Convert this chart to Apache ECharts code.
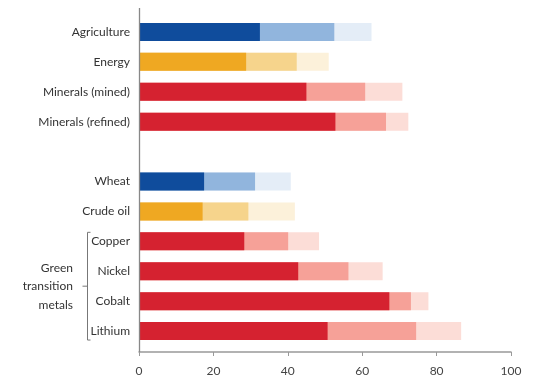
<!DOCTYPE html>
<html>
<head>
<meta charset="utf-8">
<script src="https://cdn.jsdelivr.net/npm/echarts@6/dist/echarts.min.js"></script>
<style>html,body{margin:0;padding:0;background:#fff;}#c{width:542px;height:381px;}</style>
</head>
<body>
<div id="c"></div>
<script>
// Categories (top to bottom); '' is the spacer row
const categories = ['Agriculture', 'Energy', 'Minerals (mined)', 'Minerals (refined)', '', 'Wheat', 'Crude oil', 'Copper', 'Nickel', 'Cobalt', 'Lithium'];
const colorGroup = ['blue', 'orange', 'red', 'red', 'red', 'blue', 'orange', 'red', 'red', 'red', 'red'];
// Cumulative end values of each segment (dark / medium / light)
const darkEnd   = [32.5, 28.8, 45.0, 52.8, null, 17.5, 17.1, 28.3, 42.8, 67.3, 50.7];
const mediumEnd = [52.5, 42.4, 60.8, 66.4, null, 31.2, 29.4, 40.1, 56.3, 73.1, 74.5];
const lightEnd  = [62.5, 51.0, 70.8, 72.4, null, 40.8, 41.9, 48.4, 65.5, 77.8, 86.6];
const xTicks = [0, 20, 40, 60, 80, 100];

const palette = {
  blue:   ['#0F4C9C', '#91B5DD', '#E4EDF7'],
  orange: ['#EFA822', '#F6D48C', '#FCF1DA'],
  red:    ['#D52230', '#F6A198', '#FCDDD7']
};

function items(vals, shade) {
  return vals.map((v, i) => ({ value: v, itemStyle: { color: palette[colorGroup[i]][shade] } }));
}

const chart = echarts.init(document.getElementById('c'), null, { renderer: 'canvas' });
const gridLeft = 139, gridTop = 17, gridBottom = 35;
const option = {
  animation: false,
  grid: { left: gridLeft, right: 31, top: gridTop, bottom: gridBottom },
  xAxis: {
    type: 'value', min: xTicks[0], max: xTicks[xTicks.length - 1], interval: 20,
    offset: 6,
    axisLine: { show: true, lineStyle: { color: '#999', width: 1.5 } },
    axisTick: { show: true, length: 4, lineStyle: { color: '#999' } },
    splitLine: { show: false },
    axisLabel: { color: '#444', fontSize: 12, fontFamily: 'Lato', margin: 13 }
  },
  yAxis: {
    type: 'category', data: categories, inverse: true,
    axisLine: { show: false }, axisTick: { show: false },
    axisLabel: { color: '#333', fontSize: 12, fontFamily: 'Lato', margin: 9 }
  },
  series: [
    { type: 'bar', data: items(lightEnd, 2), barWidth: 18, barGap: '-100%' },
    { type: 'bar', data: items(mediumEnd, 1), barWidth: 18, barGap: '-100%' },
    { type: 'bar', data: items(darkEnd, 0), barWidth: 18, barGap: '-100%' }
  ]
};
chart.setOption(option);

const x0 = Math.round(chart.convertToPixel({ xAxisIndex: 0 }, 0)) + 0.5;
const yCopper = chart.convertToPixel({ yAxisIndex: 0 }, 'Copper');
const yLithium = chart.convertToPixel({ yAxisIndex: 0 }, 'Lithium');
const yTop = yCopper - 9, yBot = yLithium + 9, yMid = (yTop + yBot) / 2;
const bx = 87.5;
chart.setOption({
  graphic: [
    { type: 'line', shape: { x1: x0, y1: 8, x2: x0, y2: 352 }, style: { stroke: '#888', lineWidth: 1.3 }, z: 10 },
    { type: 'polyline', shape: { points: [[bx + 3, yTop], [bx, yTop], [bx, yBot], [bx + 3, yBot]] }, style: { stroke: '#777', lineWidth: 1, fill: null } },
    { type: 'line', shape: { x1: bx - 5, y1: yMid, x2: bx, y2: yMid }, style: { stroke: '#777', lineWidth: 1 } },
    { type: 'text', x: 73, y: yMid, style: { text: 'Green\ntransition\nmetals', align: 'right', verticalAlign: 'middle', fill: '#333', font: '12px Lato', lineHeight: 18.5 } }
  ]
});
</script>
</body>
</html>
